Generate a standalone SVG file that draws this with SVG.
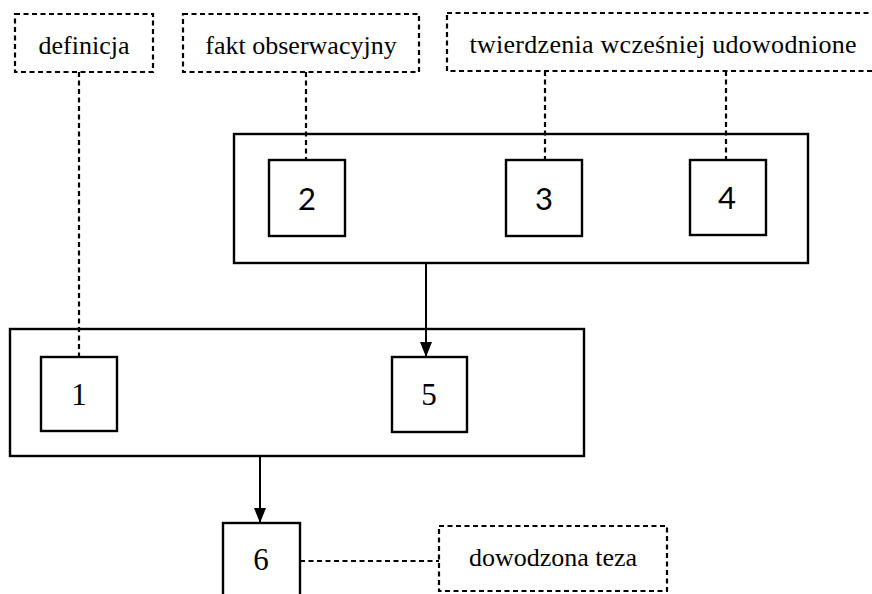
<svg xmlns="http://www.w3.org/2000/svg" width="872" height="594" viewBox="0 0 872 594">
<style>
.bg{fill:#fff}
.dbox{fill:none;stroke:#000;stroke-width:2.2;stroke-dasharray:5,3.5}
.box{fill:#fff;stroke:#000;stroke-width:2.4}
.grp{fill:none;stroke:#000;stroke-width:2.4}
.dline{stroke:#000;stroke-width:2.2;stroke-dasharray:5,3.5;fill:none}
.line{stroke:#000;stroke-width:2;fill:none}
.lbl{font-size:26px;fill:#000;text-anchor:middle}
.num{font-size:31px;fill:#000;text-anchor:middle}
.nums{font-size:31px;fill:#000;text-anchor:middle}
</style>
<defs>
<marker id="arrow" markerWidth="15" markerHeight="12" refX="15" refY="6" orient="auto" markerUnits="userSpaceOnUse" viewBox="0 0 15 12">
<path d="M0,0 L15,6 L0,12 Z" fill="#000"/>
</marker>
</defs>
<rect class="bg" x="0" y="0" width="872" height="594"/>

<g id="connectors">
<line class="dline" x1="79" y1="72" x2="79" y2="357"/>
<line class="dline" x1="306" y1="72" x2="306" y2="160"/>
<line class="dline" x1="545" y1="71" x2="545" y2="160"/>
<line class="dline" x1="726" y1="71" x2="726" y2="160"/>
<line class="dline" x1="300" y1="561" x2="439" y2="561"/>
<line class="line" x1="426" y1="264" x2="426" y2="357" marker-end="url(#arrow)"/>
<line class="line" x1="260" y1="456" x2="260" y2="523" marker-end="url(#arrow)"/>
</g>

<g id="definicja">
<rect class="dbox" x="15" y="14" width="138" height="58"/>
<text class="lbl" font-family="'Liberation Serif', 'DejaVu Serif', 'Times New Roman', serif" x="84" y="54">definicja</text>
</g>
<g id="fakt">
<rect class="dbox" x="183" y="14" width="236" height="58"/>
<text class="lbl" font-family="'Liberation Serif', 'DejaVu Serif', 'Times New Roman', serif" x="301" y="54">fakt obserwacyjny</text>
</g>
<g id="twierdzenia">
<rect class="dbox" x="447" y="13" width="430" height="58"/>
<text class="lbl" font-family="'Liberation Serif', 'DejaVu Serif', 'Times New Roman', serif" x="663" y="53" textLength="387" lengthAdjust="spacing">twierdzenia wcześniej udowodnione</text>
</g>

<g id="grupa1">
<rect class="grp" x="234" y="134" width="574" height="129"/>
</g>
<g id="n2">
<rect class="box" x="269" y="160" width="76" height="76"/>
<text class="nums" font-family="Lato, 'Open Sans', sans-serif" x="307" y="210">2</text>
</g>
<g id="n3">
<rect class="box" x="506" y="160" width="76" height="76"/>
<text class="nums" font-family="Lato, 'Open Sans', sans-serif" x="544" y="210">3</text>
</g>
<g id="n4">
<rect class="box" x="690" y="160" width="76" height="75"/>
<text class="nums" font-family="Lato, 'Open Sans', sans-serif" x="727" y="209">4</text>
</g>

<g id="grupa2">
<rect class="grp" x="10" y="329" width="574" height="127"/>
</g>
<g id="n1">
<rect class="box" x="41" y="357" width="76" height="74"/>
<text class="num" font-family="'Liberation Serif', 'DejaVu Serif', 'Times New Roman', serif" x="79" y="405">1</text>
</g>
<g id="n5">
<rect class="box" x="392" y="357" width="75" height="75"/>
<text class="num" font-family="'Liberation Serif', 'DejaVu Serif', 'Times New Roman', serif" x="429" y="405">5</text>
</g>

<g id="n6">
<rect class="box" x="223" y="523" width="77" height="80"/>
<text class="num" font-family="'Liberation Serif', 'DejaVu Serif', 'Times New Roman', serif" x="261" y="570">6</text>
</g>
<g id="teza">
<rect class="dbox" x="439" y="526" width="228" height="65"/>
<text class="lbl" font-family="'Liberation Serif', 'DejaVu Serif', 'Times New Roman', serif" x="553" y="566">dowodzona teza</text>
</g>
</svg>
